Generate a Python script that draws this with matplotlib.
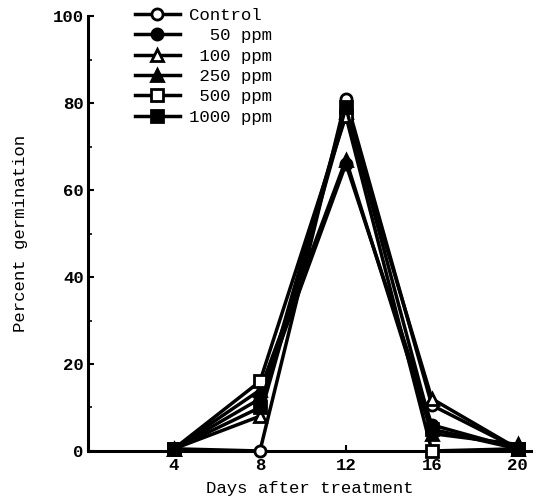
import matplotlib
matplotlib.use("Agg")
import matplotlib.pyplot as plt

plt.rcParams['font.family'] = ['Liberation Mono', 'DejaVu Sans Mono']
plt.rcParams['font.weight'] = 'bold'

days = [4, 8, 12, 16, 20]
labels = ["Control", "  50 ppm", " 100 ppm", " 250 ppm", " 500 ppm", "1000 ppm"]
control = [0.5, 0, 81, 10.5, 0.5]
ppm50 = [0.5, 12, 66, 6, 0.5]
ppm100 = [0.5, 8, 78, 12, 0.5]
ppm250 = [0.5, 14, 67, 4, 1.5]
ppm500 = [0.5, 16, 77, 0, 0.5]
ppm1000 = [0.5, 10, 79, 5, 0.5]

series = [control, ppm50, ppm100, ppm250, ppm500, ppm1000]
markers = ['o', 'o', '^', '^', 's', 's']
fills = ['white', 'black', 'white', 'black', 'white', 'black']

fig = plt.figure(figsize=(5.5, 4.97), dpi=100)
ax = fig.add_axes([0.16, 0.0926, 0.805, 0.875])

for s, lab, m, fc in zip(series, labels, markers, fills):
    ax.plot(days, s, color='black', lw=2.5, marker=m, markersize=8,
            markerfacecolor=fc, markeredgecolor='black', markeredgewidth=2,
            label=lab, clip_on=False, zorder=3)

ax.set_xlim(0, 20.6)
ax.set_ylim(0, 100)
ax.set_xticks(days)
ax.set_yticks([0, 20, 40, 60, 80, 100])
ax.set_yticks([10, 30, 50, 70, 90], minor=True)
ax.tick_params(axis='both', direction='in', length=4, width=1.5, labelsize=12.5)
ax.tick_params(axis='y', which='minor', direction='in', length=3, width=1.2)
ax.tick_params(axis='x', pad=5)
ax.tick_params(axis='y', pad=3)
for sp in ['top', 'right']:
    ax.spines[sp].set_visible(False)
for sp in ['left', 'bottom']:
    ax.spines[sp].set_linewidth(2.2)

ax.set_xlabel("Days after treatment", fontsize=12.5, labelpad=6)
ax.set_ylabel("Percent germination", fontsize=12.5, labelpad=18)

leg = ax.legend(loc='upper left', bbox_to_anchor=(0.09, 1.035), frameon=False,
                fontsize=12.5, handlelength=2.6, labelspacing=0.3, handletextpad=0.5,
                borderaxespad=0)
for t in leg.get_texts():
    t.set_fontweight('normal')

fig.savefig("out.png", dpi=100)
